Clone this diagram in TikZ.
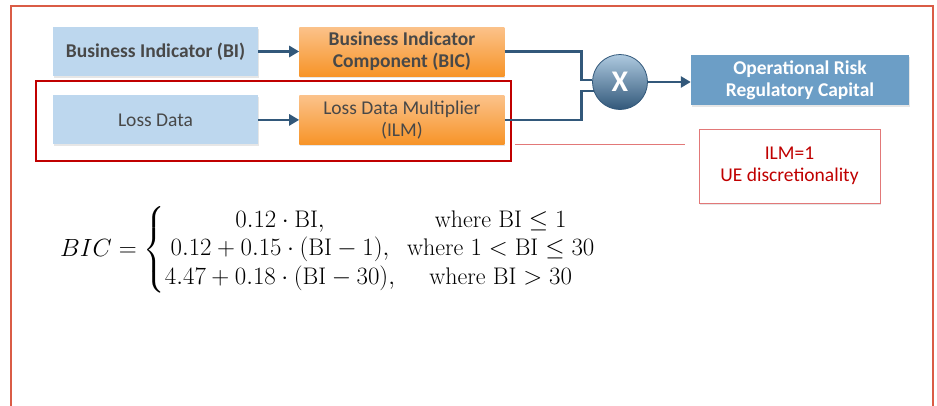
\documentclass[tikz,border=0pt]{standalone}
\usepackage{amsmath}
\usepackage{amssymb}
\usepackage{fontspec}
\newfontfamily\calib{Carlito}
\usetikzlibrary{positioning}
\usetikzlibrary{shadows}
\usetikzlibrary{arrows.meta}
\definecolor{boxblue}{RGB}{189,215,238}
\definecolor{orgtop}{RGB}{251,194,138}
\definecolor{orgbot}{RGB}{247,148,40}
\definecolor{flowblue}{RGB}{50,88,122}
\definecolor{capblue}{RGB}{108,158,198}
\definecolor{frame}{RGB}{218,92,70}
\definecolor{darkred}{RGB}{192,0,0}
\definecolor{notered}{RGB}{226,120,120}
\definecolor{boxtext}{RGB}{72,72,72}
\newcommand{\boxfont}{\calib\fontsize{19.5}{22}\selectfont}

\begin{document}
\begin{tikzpicture}[x=1pt,y=-1pt,
    flow/.style={-{Triangle[length=10pt,width=11pt]},line width=2.6pt,draw=flowblue},
    boxshadow/.style={drop shadow={opacity=.2,shadow xshift=1pt,shadow yshift=-1.5pt}},
    inbox/.style={minimum width=205pt,minimum height=49pt,inner sep=1pt,align=center,
      text=boxtext,font=\boxfont,boxshadow},
    srcbox/.style={inbox,fill=boxblue},
    calcbox/.style={inbox,top color=orgtop,bottom color=orgbot}]
  \useasboundingbox (0,0) rectangle (937,405);
  \draw[frame,line width=1.2pt] (11,6) rectangle (933,430);
  \node[srcbox,font=\boxfont\bfseries] (bi) at (155.5,51.5) {Business Indicator (BI)};
  \node[calcbox,font=\boxfont\bfseries,right=41pt of bi] (bic) {Business Indicator\\Component (BIC)};
  \node[srcbox,below=19pt of bi] (ld) {Loss Data};
  \node[calcbox,right=41pt of ld] (ilm) {Loss Data Multiplier\\(ILM)};
  \node[circle,minimum size=55pt,top color=capblue!55,bottom color=flowblue,
    draw=flowblue,line width=.8pt,text=white,font=\calib\fontsize{30}{30}\selectfont\bfseries]
    (x) at (620,82) {X};
  \node[fill=capblue,minimum width=218pt,minimum height=50pt,align=center,text=white,
    font=\boxfont\bfseries,boxshadow] (orc) at (800,80) {Operational Risk\\Regulatory Capital};
  \node[draw=notered,line width=1pt,fill=white,minimum width=181pt,minimum height=74pt,
    align=center,text=darkred,font=\boxfont,boxshadow] (note) at (789.5,166) {ILM=1\\UE discretionality};
  \draw[darkred,line width=1.2pt] (36,81) rectangle (511,161);
  \coordinate (lnk) at (685,144);
  \draw[notered,line width=.8pt] (515,144) -- (lnk);
  \draw[flow] (bi) -- (bic);
  \draw[flow] (ld) -- (ilm);
  \draw[flow] (x.east) -- (x.east -| orc.west);
  \draw[flowblue,line width=2.6pt] (bic.east) -- ++(77,0) |- (x.176);
  \draw[flowblue,line width=2.6pt] (ilm.east) -- ++(77,0) |- (x.199);
  \node[anchor=west,inner sep=0pt,font=\fontsize{24}{28.5}\selectfont] (form) at (60,250)
    {$BIC=\left\{\begin{array}{@{}c@{\hspace{12pt}}c@{}}
      0.12\cdot\mathrm{BI}, & \text{where BI}\leq 1\\
      0.12+0.15\cdot(\mathrm{BI}-1), & \text{where }1<\mathrm{BI}\leq 30\\
      4.47+0.18\cdot(\mathrm{BI}-30), & \text{where BI}>30
    \end{array}\right.$};
\end{tikzpicture}
\end{document}
